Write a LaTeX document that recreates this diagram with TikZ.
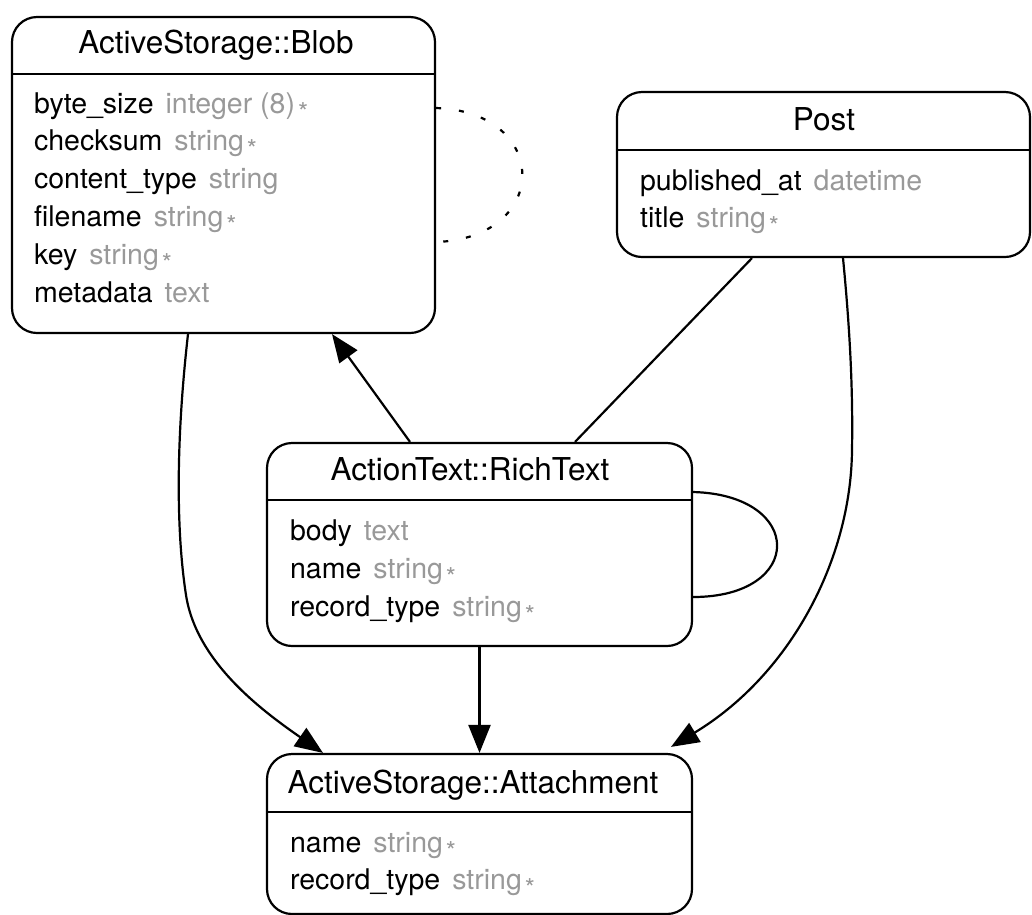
\documentclass[tikz,border=0pt]{standalone}
\usepackage{fontspec}
\setmainfont{TeX Gyre Heros}
\usetikzlibrary{arrows.meta}
\definecolor{typegray}{HTML}{999999}
\newcommand{\fld}[2]{#1\hspace{12pt}\textcolor{typegray}{#2}}
\newcommand{\req}{\hspace{3pt}\textcolor{typegray}{\raisebox{-8pt}{\fontsize{26}{26}\selectfont *}}}
\begin{document}
\begin{tikzpicture}[x=1pt,y=-1pt, line width=2.2pt,
  entity/.style={draw, rounded corners=25pt, inner sep=0pt},
  title/.style={anchor=base, inner sep=0pt, font=\fontsize{31.5}{31.5}\selectfont},
  field/.style={anchor=base west, inner sep=0pt, font=\fontsize{28.5}{28.5}\selectfont},
  arr/.style={-{Triangle[length=28pt,width=22pt]}},
  dotloop/.style={dash pattern=on 5pt off 18pt}
]
\useasboundingbox (0,0) rectangle (1032,914);

% entity boxes
\node[entity, minimum width=423pt, minimum height=316pt] (blob) at (223.5,175) {};
\node[entity, minimum width=413pt, minimum height=165pt] (post) at (823.5,174.5) {};
\node[entity, minimum width=425pt, minimum height=203pt] (rich) at (479.5,544.5) {};
\node[entity, minimum width=425pt, minimum height=160pt] (att) at (479.5,834) {};

% header separators
\draw ([shift={(0,58)}]blob.north west) -- ([shift={(0,58)}]blob.north east);
\draw ([shift={(0,59)}]post.north west) -- ([shift={(0,59)}]post.north east);
\draw ([shift={(0,58)}]rich.north west) -- ([shift={(0,58)}]rich.north east);
\draw ([shift={(0,59)}]att.north west) -- ([shift={(0,59)}]att.north east);

% Blob
\node[title] (blobT) at (216,53) {ActiveStorage::Blob};
\node[field] (blob1) at (33,113) {\fld{byte\_size}{integer (8)}\req};
\node[field] (blob2) at (33,150.8) {\fld{checksum}{string}\req};
\node[field] (blob3) at (33,188.6) {\fld{content\_type}{string}};
\node[field] (blob4) at (33,226.4) {\fld{filename}{string}\req};
\node[field] (blob5) at (33,264.2) {\fld{key}{string}\req};
\node[field] (blob6) at (33,302) {\fld{metadata}{text}};

% Post
\node[title] (postT) at (824,130) {Post};
\node[field] (post1) at (639,190) {\fld{published\_at}{datetime}};
\node[field] (post2) at (639,227) {\fld{title}{string}\req};

% RichText
\node[title] (richT) at (470,480) {ActionText::RichText};
\node[field] (rich1) at (289,540) {\fld{body}{text}};
\node[field] (rich2) at (289,578) {\fld{name}{string}\req};
\node[field] (rich3) at (289,616) {\fld{record\_type}{string}\req};

% Attachment
\node[title] (attT) at (473,793) {ActiveStorage::Attachment};
\node[field] (att1) at (289,852) {\fld{name}{string}\req};
\node[field] (att2) at (289,889) {\fld{record\_type}{string}\req};

% connectors
\draw[arr] ([shift={(-69.5,0)}]rich.north) -- ([shift={(108.5,0)}]blob.south);
\draw ([shift={(-71.5,0)}]post.south) -- ([shift={(95.5,0)}]rich.north);
\draw[arr] ([shift={(-35.5,0)}]blob.south) .. controls (176,440) and (176,530) .. (186,595)
  .. controls (196,660) and (258,708) .. ([shift={(-156.5,0)}]att.north);
\draw[arr] (rich.south) -- (att.north);
\draw[arr] ([shift={(19.5,0)}]post.south) .. controls (850,330) and (853,390) .. (852,450)
  .. controls (851,560) and (790,675) .. ([shift={(191.5,-6)}]att.north);

% self loops
\draw[dotloop] ([shift={(0,-67)}]blob.east) .. controls +(115,4) and +(115,-4) .. ([shift={(0,67)}]blob.east);
\draw ([shift={(0,-52.5)}]rich.east) .. controls +(112,3) and +(112,0) .. ([shift={(0,52.5)}]rich.east);
\end{tikzpicture}
\end{document}
